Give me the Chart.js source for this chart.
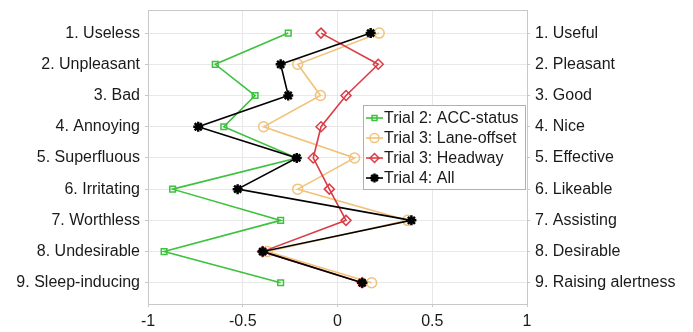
<!DOCTYPE html>
<html>
<head>
<meta charset="utf-8">
<script src="https://cdn.jsdelivr.net/npm/chart.js@4/dist/chart.umd.min.js"></script>
<style>
html,body{margin:0;padding:0;background:#fff;}
#wrap{width:693px;height:332px;position:relative;}
</style>
</head>
<body>
<div id="wrap"><canvas id="c" width="693" height="332"></canvas></div>
<script>
const leftLabels = ["1. Useless","2. Unpleasant","3. Bad","4. Annoying","5. Superfluous","6. Irritating","7. Worthless","8. Undesirable","9. Sleep-inducing"];
const rightLabels = ["1. Useful","2. Pleasant","3. Good","4. Nice","5. Effective","6. Likeable","7. Assisting","8. Desirable","9. Raising alertness"];
const xTicks = [-1,-0.5,0,0.5,1];
const seriesNames = ["Trial 2: ACC-status","Trial 3: Lane-offset","Trial 3: Headway","Trial 4: All"];
const accStatus  = [-0.26,-0.645,-0.435,-0.60,-0.215,-0.87,-0.30,-0.915,-0.30];
const laneOffset = [0.22,-0.21,-0.09,-0.39,0.09,-0.21,0.37,-0.37,0.18];
const headway    = [-0.087,0.215,0.045,-0.087,-0.128,-0.043,0.045,-0.395,0.13];
const allTrial   = [0.175,-0.30,-0.26,-0.735,-0.215,-0.527,0.39,-0.395,0.13];

const toPts = arr => arr.map((v,i)=>({x:v,y:i+1}));
const FONT = "'Liberation Sans', Arial, sans-serif";
const FS = 16;

const styles = [
  {color:'#3cc23c', point:'rect', radius:4, order:3},
  {color:'#f2c27a', point:'circle', radius:5, order:2},
  {color:'#dc3c46', point:'rectRot', radius:5, order:1},
  {color:'#000000', point:'star', radius:5, order:0}
];
const values = [accStatus, laneOffset, headway, allTrial];

const datasets = values.map((v,i)=>({
  label: seriesNames[i],
  data: toPts(v),
  borderColor: styles[i].color,
  backgroundColor: i===3 ? '#000' : 'rgba(255,255,255,0)',
  pointBorderColor: styles[i].color,
  pointBackgroundColor: i===3 ? '#000' : 'rgba(255,255,255,0)',
  pointStyle: styles[i].point,
  pointRadius: styles[i].radius,
  pointBorderWidth: i===3 ? 2.5 : 1.5,
  borderWidth: 1.6,
  showLine: true,
  tension: 0,
  order: styles[i].order,
  fill: false
}));

const legendPlugin = {
  id:'customLegend',
  afterDatasetsDraw(chart){
    const ctx = chart.ctx;
    const x0 = 363, y0 = 105, w = 162, h = 84;
    ctx.save();
    ctx.fillStyle = '#fff';
    ctx.fillRect(x0,y0,w,h);
    ctx.strokeStyle = '#b0b0b0';
    ctx.lineWidth = 1;
    ctx.strokeRect(x0+0.5,y0+0.5,w,h);
    chart.data.datasets.forEach((ds,i)=>{
      const cy = y0 + 13 + i*20;
      ctx.strokeStyle = ds.borderColor;
      ctx.lineWidth = 1.6;
      ctx.beginPath(); ctx.moveTo(x0+3,cy); ctx.lineTo(x0+20,cy); ctx.stroke();
      ctx.fillStyle = ds.pointBackgroundColor;
      ctx.strokeStyle = ds.pointBorderColor;
      ctx.lineWidth = ds.pointBorderWidth;
      Chart.helpers.drawPoint(ctx,{pointStyle:ds.pointStyle,radius:ds.pointRadius-0.5,borderWidth:ds.pointBorderWidth,rotation:0},x0+11.5,cy);
      ctx.fillStyle = '#1a1a1a';
      ctx.font = FS + 'px ' + FONT;
      ctx.textBaseline = 'middle';
      ctx.textAlign = 'left';
      ctx.fillText(ds.label, x0+21, cy+1);
    });
    ctx.restore();
  }
};

new Chart(document.getElementById('c'),{
  type:'line',
  data:{datasets},
  plugins:[legendPlugin],
  options:{
    responsive:false,
    animation:false,
    layout:{padding:{top:10,left:0,right:0,bottom:0}},
    plugins:{legend:{display:false},tooltip:{enabled:false}},
    scales:{
      x:{
        type:'linear', min:-1, max:1,
        afterBuildTicks(s){ s.ticks = xTicks.map(v=>({value:v})); },
        afterFit(s){ s.height = 28; },
        grid:{color:'#e8e8e8', lineWidth:1, drawTicks:true, tickLength:3, tickColor:'#c8c8c8'},
        border:{color:'#c8c8c8', width:1},
        ticks:{color:'#1a1a1a', font:{family:FONT,size:FS}, padding:5, maxRotation:0,
          callback:v=>String(v)}
      },
      y:{
        type:'linear', position:'left', reverse:true, min:0.26, max:9.68,
        afterBuildTicks(s){ s.ticks = leftLabels.map((_,i)=>({value:i+1})); },
        afterFit(s){ s.width = 148; s.paddingTop = 0; s.paddingBottom = 0; },
        grid:{color:'#e8e8e8', lineWidth:1, drawTicks:true, tickLength:3, tickColor:'#c8c8c8'},
        border:{color:'#c8c8c8', width:1},
        ticks:{color:'#1a1a1a', font:{family:FONT,size:FS}, padding:5,
          callback:v=>leftLabels[Math.round(v)-1]}
      },
      y2:{
        type:'linear', position:'right', reverse:true, min:0.26, max:9.68,
        afterBuildTicks(s){ s.ticks = rightLabels.map((_,i)=>({value:i+1})); },
        afterFit(s){ s.width = 166; s.paddingTop = 0; s.paddingBottom = 0; },
        grid:{drawOnChartArea:false, drawTicks:true, tickLength:3, tickColor:'#c8c8c8'},
        border:{color:'#c8c8c8', width:1},
        ticks:{color:'#1a1a1a', font:{family:FONT,size:FS}, padding:5,
          callback:v=>rightLabels[Math.round(v)-1]}
      },
      xTop:{
        type:'linear', position:'top', min:-1, max:1,
        afterBuildTicks(s){ s.ticks = []; },
        afterFit(s){ s.height = 0; },
        grid:{display:false},
        border:{color:'#c8c8c8', width:1},
        ticks:{display:false}
      }
    }
  }
});
</script>
</body>
</html>
